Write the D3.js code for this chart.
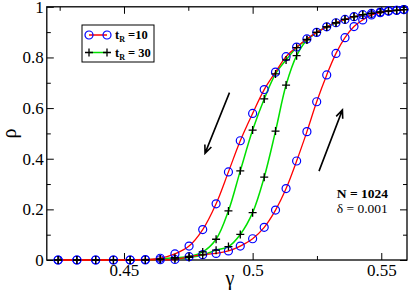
<!DOCTYPE html>
<html>
<head>
<meta charset="utf-8">
<script src="https://cdn.jsdelivr.net/npm/d3@7/dist/d3.min.js"></script>
<style>
  body { margin: 0; background: #fff; }
  svg { display: block; }
  .tick line { stroke: #000; stroke-width: 1; }
</style>
</head>
<body>
<div id="chart"></div>
<script>
var svgWidth = 409;
var svgHeight = 297;
var serif = "'Liberation Serif', 'Times New Roman', Times, serif";

// gamma values where the runs were sampled
var gamma = [0.4244, 0.4317, 0.4390, 0.4459, 0.4524, 0.4583, 0.4641, 0.4698, 0.4753, 0.4806,
  0.4858, 0.4906, 0.4952, 0.5000, 0.5045, 0.5089, 0.5130, 0.5171, 0.5211, 0.5249,
  0.5288, 0.5324, 0.5359, 0.5394, 0.5428, 0.5462, 0.5496, 0.5528, 0.5560, 0.5588];

// t_R = 10, increasing gamma (right branch)
var rho10Up = [0, 0, 0, 0, 0, 0, 0.001, 0.002, 0.013, 0.021,
  0.026, 0.036, 0.055, 0.084, 0.129, 0.197, 0.282, 0.391, 0.507, 0.625,
  0.731, 0.816, 0.878, 0.922, 0.948, 0.968, 0.977, 0.983, 0.986, 0.989];
// t_R = 10, decreasing gamma (left branch)
var rho10Down = [0, 0, 0, 0, 0, 0.002, 0.007, 0.024, 0.055, 0.120,
  0.222, 0.348, 0.471, 0.579, 0.673, 0.742, 0.803, 0.841, 0.873, 0.899,
  0.921, 0.937, 0.950, 0.961, 0.969, 0.974, 0.979, 0.983, 0.986, 0.989];
// t_R = 30
var rho30Up = [0, 0, 0, 0, 0, 0, 0.002, 0.004, 0.010, 0.020,
  0.039, 0.053, 0.101, 0.187, 0.327, 0.509, 0.691, 0.807, 0.869, 0.899,
  0.921, 0.937, 0.950, 0.961, 0.969, 0.974, 0.979, 0.983, 0.986, 0.989];
var rho30Down = [0, 0, 0, 0, 0, 0.001, 0.004, 0.009, 0.014, 0.032,
  0.082, 0.194, 0.352, 0.513, 0.636, 0.735, 0.790, 0.839, 0.871, 0.899,
  0.921, 0.937, 0.950, 0.961, 0.969, 0.974, 0.979, 0.983, 0.986, 0.989];

var xMajor = [0.45, 0.5, 0.55];
var xMinor = [0.425, 0.475, 0.525];
var yMajor = [0, 0.2, 0.4, 0.6, 0.8, 1];
var yMinor = [0.1, 0.3, 0.5, 0.7, 0.9];

// arrows in data coordinates [g0, r0, g1, r1] (head at g1,r1)
var arrows = [[0.4910, 0.661, 0.4815, 0.421], [0.5258, 0.351, 0.5349, 0.593]];

var margin = { top: 6.8, right: 2, bottom: 37, left: 46.8 };
var width = svgWidth - margin.left - margin.right;
var height = svgHeight - margin.top - margin.bottom;

var svg = d3.select("#chart").append("svg")
  .attr("width", svgWidth)
  .attr("height", svgHeight);

var chart = svg.append("g")
  .attr("transform", `translate(${margin.left}, ${margin.top})`);

var x = d3.scaleLinear().domain([0.42, 0.56]).range([0, width]);
var y = d3.scaleLinear().domain([0, 1]).range([height, 0]);

// axes, ticks pointing inward
function styleAxis(g) {
  g.attr("font-family", serif).attr("font-size", 17);
  g.selectAll(".tick text").attr("fill", "#000");
}
chart.append("g").attr("transform", `translate(0, ${height})`)
  .call(d3.axisBottom(x).tickValues(xMajor).tickSize(-7).tickPadding(4).tickFormat(d => String(d)))
  .call(styleAxis);
chart.append("g").attr("transform", `translate(0, ${height})`)
  .call(d3.axisBottom(x).tickValues(xMinor).tickSize(-4).tickFormat(""));
chart.append("g")
  .call(d3.axisTop(x).tickValues(xMajor).tickSize(-7).tickFormat(""));
chart.append("g")
  .call(d3.axisTop(x).tickValues(xMinor).tickSize(-4).tickFormat(""));
chart.append("g")
  .call(d3.axisLeft(y).tickValues(yMajor).tickSize(-7).tickPadding(3).tickFormat(d => String(d)))
  .call(styleAxis);
chart.append("g")
  .call(d3.axisLeft(y).tickValues(yMinor).tickSize(-4).tickFormat(""));
chart.append("g").attr("transform", `translate(${width}, 0)`)
  .call(d3.axisRight(y).tickValues(yMajor).tickSize(-7).tickFormat(""));
chart.append("g").attr("transform", `translate(${width}, 0)`)
  .call(d3.axisRight(y).tickValues(yMinor).tickSize(-4).tickFormat(""));
chart.selectAll(".domain").remove();

chart.append("rect")
  .attr("width", width).attr("height", height)
  .attr("fill", "none").attr("stroke", "#000").attr("stroke-width", 1.3);

// curves
var line = d3.line().x(d => x(d[0])).y(d => y(d[1])).curve(d3.curveCatmullRom);
function pts(vals) { return gamma.map((g, i) => [g, vals[i]]); }

[rho30Up, rho30Down].forEach(function(v) {
  chart.append("path").attr("d", line(pts(v)))
    .attr("fill", "none").attr("stroke", "#00e000").attr("stroke-width", 1.5);
});
[rho10Up, rho10Down].forEach(function(v) {
  chart.append("path").attr("d", line(pts(v)))
    .attr("fill", "none").attr("stroke", "#ff0000").attr("stroke-width", 1.3);
});

[rho10Up, rho10Down].forEach(function(v) {
  chart.append("g").selectAll("circle").data(pts(v)).enter()
    .append("circle")
    .attr("cx", d => x(d[0]))
    .attr("cy", d => y(d[1]))
    .attr("r", 4)
    .attr("fill", "none")
    .attr("stroke", "#0000ff")
    .attr("stroke-width", 1.2);
});

function plusPath(cx, cy, s) {
  return `M${cx - s},${cy}H${cx + s}M${cx},${cy - s}V${cy + s}`;
}
[rho30Up, rho30Down].forEach(function(v) {
  chart.append("g").selectAll("path").data(pts(v)).enter()
    .append("path")
    .attr("d", d => plusPath(x(d[0]), y(d[1]), 4))
    .attr("stroke", "#000")
    .attr("stroke-width", 1.3);
});

// arrows
arrows.forEach(function(a) {
  var x0 = x(a[0]), y0 = y(a[1]), x1 = x(a[2]), y1 = y(a[3]);
  var ang = Math.atan2(y1 - y0, x1 - x0);
  var hl = 9, hw = 0.4;
  chart.append("path")
    .attr("d", `M${x0},${y0}L${x1},${y1}` +
      `M${x1 - hl * Math.cos(ang - hw)},${y1 - hl * Math.sin(ang - hw)}L${x1},${y1}` +
      `L${x1 - hl * Math.cos(ang + hw)},${y1 - hl * Math.sin(ang + hw)}`)
    .attr("fill", "none").attr("stroke", "#000").attr("stroke-width", 1.6);
});

// annotation text
chart.append("text")
  .attr("x", x(0.5327)).attr("y", y(0.244))
  .attr("font-family", serif).attr("font-size", 13.5)
  .attr("font-weight", "bold")
  .text("N = 1024");
chart.append("text")
  .attr("x", x(0.5327)).attr("y", y(0.184))
  .attr("font-family", serif).attr("font-size", 13.5)
  .text("δ = 0.001");

// axis titles
svg.append("text")
  .attr("x", margin.left + width / 2 + 3).attr("y", 285)
  .attr("text-anchor", "middle")
  .attr("font-family", serif).attr("font-size", 20)
  .text("γ");
svg.append("text")
  .attr("transform", `translate(16, ${margin.top + height / 2}) rotate(-90)`)
  .attr("text-anchor", "middle")
  .attr("font-family", serif).attr("font-size", 20)
  .text("ρ");

// legend
var legend = svg.append("g").attr("transform", "translate(82, 25)");
legend.append("rect").attr("width", 72).attr("height", 37)
  .attr("fill", "#fff").attr("stroke", "#000").attr("stroke-width", 1);

var entries = [
  { label: "=10", color: "#ff0000", marker: "circle" },
  { label: "= 30", color: "#00e000", marker: "plus" }
];
entries.forEach(function(e, i) {
  var ly = 10 + i * 17.5;
  legend.append("line").attr("x1", 7).attr("x2", 25).attr("y1", ly).attr("y2", ly)
    .attr("stroke", e.color).attr("stroke-width", 1.5);
  [7, 25].forEach(function(mx) {
    if (e.marker === "circle") {
      legend.append("circle").attr("cx", mx).attr("cy", ly).attr("r", 4)
        .attr("fill", "none").attr("stroke", "#0000ff").attr("stroke-width", 1.2);
    } else {
      legend.append("path").attr("d", plusPath(mx, ly, 4))
        .attr("stroke", "#000").attr("stroke-width", 1.3);
    }
  });
  var t = legend.append("text").attr("x", 33).attr("y", ly + 4)
    .attr("font-family", serif).attr("font-size", 12.5)
    .attr("font-weight", "bold").attr("xml:space", "preserve");
  t.append("tspan").text("t");
  t.append("tspan").attr("font-size", 8).attr("dy", 3).text("R");
  t.append("tspan").attr("dy", -3).text(" " + e.label);
});
</script>
</body>
</html>
